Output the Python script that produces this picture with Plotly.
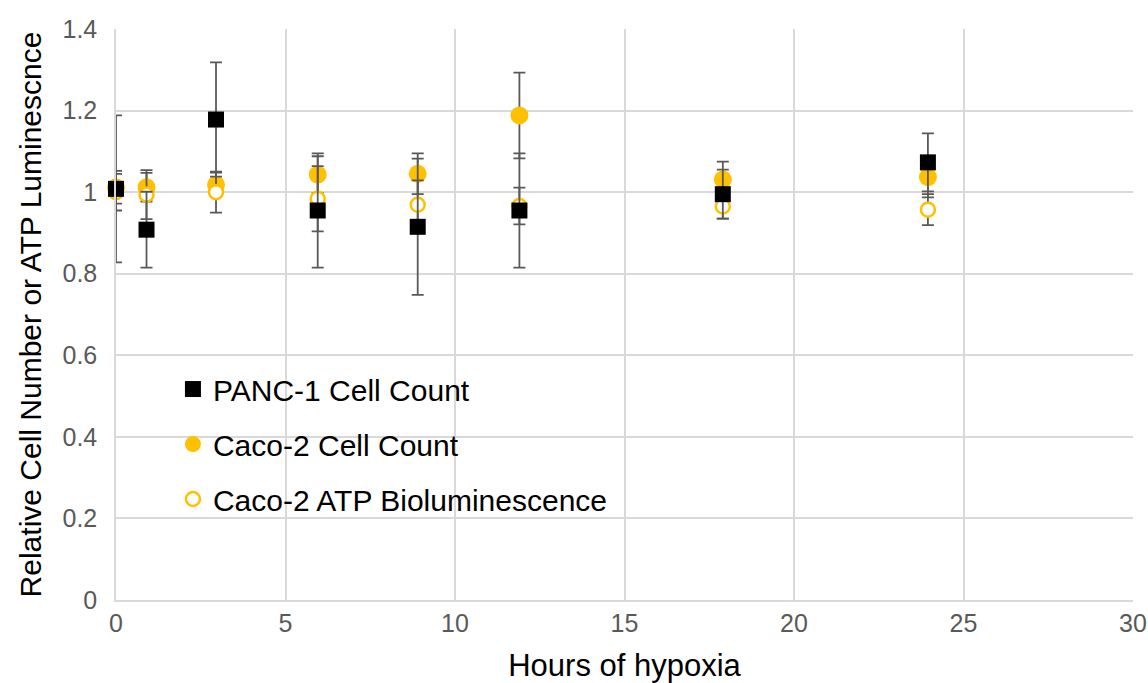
import plotly.graph_objects as go

hours = [0, 0.9, 2.95, 5.95, 8.9, 11.9, 17.9, 23.95]

panc_count = [1.008, 0.908, 1.178, 0.955, 0.915, 0.955, 0.995, 1.073]
panc_err = [0.18, 0.093, 0.14, 0.14, 0.167, 0.14, 0.06, 0.071]

caco_count = [1.012, 1.012, 1.018, 1.043, 1.045, 1.188, 1.031, 1.037]
caco_count_err = [0.04, 0.035, 0.03, 0.045, 0.05, 0.105, 0.044, 0.05]

caco_atp = [1.0, 0.994, 1.0, 0.984, 0.969, 0.966, 0.965, 0.957]
caco_atp_err = [0.045, 0.06, 0.05, 0.08, 0.06, 0.045, 0.03, 0.038]

FONT = "Liberation Sans, Arial, Helvetica, sans-serif"
ERR_COLOR = "#595959"
YEL = "#FFC000"

def err(vals):
    return dict(type="data", array=vals, visible=True, color=ERR_COLOR,
                thickness=1.8, width=6)

fig = go.Figure()
fig.add_trace(go.Scatter(
    x=hours, y=caco_count, mode="markers", name="Caco-2 Cell Count",
    marker=dict(symbol="circle", size=18, color=YEL, line=dict(width=0)),
    error_y=err(caco_count_err), legendgroup="b", legendrank=2, cliponaxis=False))
fig.add_trace(go.Scatter(
    x=hours, y=caco_atp, mode="markers", name="Caco-2 ATP Bioluminescence",
    marker=dict(symbol="circle", size=14, color="white", line=dict(width=2.5, color=YEL)),
    error_y=err(caco_atp_err), legendgroup="c", legendrank=3, cliponaxis=False))
fig.add_trace(go.Scatter(
    x=hours, y=panc_count, mode="markers", name="PANC-1 Cell Count",
    marker=dict(symbol="square", size=16, color="black", line=dict(width=0)),
    error_y=err(panc_err), legendgroup="a", legendrank=1, cliponaxis=False))

fig.update_layout(
    width=1148, height=683,
    margin=dict(l=116, r=15, t=29, b=83),
    paper_bgcolor="white", plot_bgcolor="white",
    font=dict(family=FONT, color="#595959", size=25),
    showlegend=True,
    legend=dict(x=0.056, y=0.415, xanchor="left", yanchor="top",
                bgcolor="rgba(0,0,0,0)", font=dict(size=30, color="black", family=FONT),
                traceorder="grouped", tracegroupgap=13, itemsizing="trace"),
    xaxis=dict(range=[0, 30], dtick=5, tick0=0, showgrid=True, gridcolor="#d9d9d9",
               gridwidth=1.5, zeroline=False, showline=True, linecolor="#d9d9d9",
               linewidth=1.5, ticks="", automargin=False,
               tickfont=dict(size=25, color="#595959"),
               title=dict(text="Hours of hypoxia", font=dict(size=31, color="black"),
                          standoff=19)),
    yaxis=dict(range=[0, 1.4], dtick=0.2, tick0=0, showgrid=True, gridcolor="#d9d9d9",
               gridwidth=1.5, zeroline=False, showline=True, linecolor="#d9d9d9",
               linewidth=1.5, ticks="", ticklabelstandoff=12, automargin=False,
               tickfont=dict(size=25, color="#595959"),
               title=dict(text="Relative Cell Number or ATP Luminescnce",
                          font=dict(size=30, color="black"), standoff=12)),
)

fig.write_html("out.html", config={"displayModeBar": False},
               post_script="document.body.style.margin='0';")
